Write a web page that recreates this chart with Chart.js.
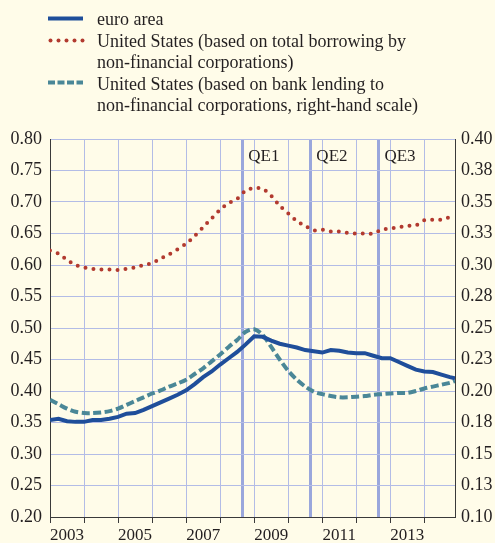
<!DOCTYPE html>
<html>
<head>
<meta charset="utf-8">
<script src="https://cdn.jsdelivr.net/npm/chart.js@4/dist/chart.umd.min.js"></script>
<style>
  html, body { margin: 0; padding: 0; background: #fffce9; }
  #wrap { position: relative; width: 495px; height: 543px; overflow: hidden; background: #fffce9; }
  canvas { position: absolute; left: 0; top: 0; }
  .lg { position: absolute; left: 97px; font-family: "Liberation Serif", "Times New Roman", serif; font-size: 18px; line-height: 21px; color: #231f20; white-space: nowrap; }
  svg.sw { position: absolute; left: 0; top: 0; }
</style>
</head>
<body>
<div id="wrap">
  <canvas id="c" width="495" height="543"></canvas>
  <svg class="sw" width="100" height="110">
    <line x1="48" y1="18.5" x2="83" y2="18.5" stroke="#1f4e9a" stroke-width="4"/>
    <g fill="#b23a2f">
      <circle cx="50.5" cy="40.5" r="2"/><circle cx="58.5" cy="40.5" r="2"/><circle cx="66.5" cy="40.5" r="2"/><circle cx="74.5" cy="40.5" r="2"/><circle cx="82.5" cy="40.5" r="2"/>
    </g>
    <line x1="48" y1="82.5" x2="83" y2="82.5" stroke="#4a8797" stroke-width="4" stroke-dasharray="7,2.5"/>
  </svg>
  <div class="lg" style="top:9px">euro area</div>
  <div class="lg" style="top:30.5px">United States (based on total borrowing by</div>
  <div class="lg" style="top:52px">non-financial corporations)</div>
  <div class="lg" style="top:73.5px">United States (based on bank lending to</div>
  <div class="lg" style="top:95px">non-financial corporations, right-hand scale)</div>
</div>
<script>
// ---- data ----
const euroYears = [2003.0,2003.25,2003.5,2003.75,2004.0,2004.25,2004.5,2004.75,2005.0,2005.25,2005.5,2005.75,2006.0,2006.25,2006.5,2006.75,2007.0,2007.25,2007.5,2007.75,2008.0,2008.25,2008.5,2008.75,2009.0,2009.25,2009.5,2009.75,2010.0,2010.25,2010.5,2010.75,2011.0,2011.25,2011.5,2011.75,2012.0,2012.25,2012.5,2012.75,2013.0,2013.25,2013.5,2013.75,2014.0,2014.25,2014.5,2014.75,2014.9];
const euroArea = [0.354,0.356,0.352,0.351,0.351,0.354,0.354,0.356,0.359,0.364,0.365,0.370,0.376,0.382,0.388,0.394,0.401,0.411,0.422,0.431,0.442,0.452,0.462,0.474,0.487,0.486,0.480,0.475,0.472,0.469,0.465,0.463,0.461,0.465,0.464,0.461,0.460,0.460,0.456,0.452,0.452,0.446,0.440,0.434,0.431,0.430,0.426,0.422,0.420];

const usTotalYears = [2003.0,2003.25,2003.5,2003.75,2004.0,2004.25,2004.5,2004.75,2005.0,2005.25,2005.5,2005.75,2006.0,2006.25,2006.5,2006.75,2007.0,2007.25,2007.5,2007.75,2008.0,2008.25,2008.5,2008.75,2009.0,2009.25,2009.5,2009.75,2010.0,2010.25,2010.5,2010.75,2011.0,2011.25,2011.5,2011.75,2012.0,2012.25,2012.5,2012.75,2013.0,2013.25,2013.5,2013.75,2014.0,2014.25,2014.5,2014.75,2014.9];
const usTotal = [0.623,0.618,0.608,0.600,0.596,0.594,0.593,0.593,0.592,0.594,0.596,0.600,0.603,0.610,0.617,0.625,0.634,0.646,0.660,0.674,0.688,0.698,0.705,0.718,0.722,0.721,0.710,0.694,0.682,0.670,0.662,0.655,0.656,0.653,0.653,0.651,0.650,0.650,0.650,0.656,0.658,0.660,0.662,0.663,0.671,0.672,0.672,0.676,0.677];

const usBankYears = [2003.0,2003.25,2003.5,2003.75,2004.0,2004.25,2004.5,2004.75,2005.0,2005.25,2005.5,2005.75,2006.0,2006.25,2006.5,2006.75,2007.0,2007.25,2007.5,2007.75,2008.0,2008.25,2008.5,2008.75,2009.0,2009.25,2009.5,2009.75,2010.0,2010.25,2010.5,2010.75,2011.0,2011.25,2011.5,2011.75,2012.0,2012.25,2012.5,2012.75,2013.0,2013.25,2013.5,2013.75,2014.0,2014.25,2014.5,2014.75,2014.9];
const usBank = [0.193,0.1895,0.186,0.1835,0.1825,0.1825,0.183,0.184,0.186,0.189,0.192,0.195,0.198,0.2005,0.2035,0.206,0.209,0.2135,0.218,0.2235,0.229,0.235,0.2405,0.247,0.249,0.2445,0.235,0.225,0.216,0.209,0.2035,0.1995,0.1975,0.196,0.195,0.195,0.1955,0.196,0.197,0.1975,0.198,0.1985,0.1985,0.200,0.202,0.2035,0.205,0.2065,0.208];

const yearGrid = [2003,2004,2005,2006,2007,2008,2009,2010,2011,2012,2013,2014];
const yearLabelPos = [2003.5,2005.5,2007.5,2009.5,2011.5,2013.5];
const yearLabels = ['2003','2005','2007','2009','2011','2013'];
const qeDates = [2008.65,2010.65,2012.65];
const qeLabels = ['QE1','QE2','QE3'];
const rightTicks = [0.1,0.125,0.15,0.175,0.2,0.225,0.25,0.275,0.3,0.325,0.35,0.375,0.4];
const rightTickLabels = ['0.10','0.13','0.15','0.18','0.20','0.23','0.25','0.28','0.30','0.33','0.35','0.38','0.40'];

const toXY = (xs, ys) => xs.map((x, i) => ({x: x, y: ys[i]}));

const GRID = '#b3bce6';
const QE = '#9aa7dc';
const AXIS = '#3a3a3a';
const FONT = '"Liberation Serif", "Times New Roman", serif';

const kindOf = v => {
  if (qeDates.some(q => Math.abs(q - v) < 1e-6)) return 'qe';
  if (yearLabelPos.some(q => Math.abs(q - v) < 1e-6)) return 'label';
  return 'year';
};

const qePlugin = {
  id: 'qeText',
  afterDatasetsDraw(chart) {
    const ctx = chart.ctx, xs = chart.scales.x;
    ctx.save();
    ctx.font = '17px ' + FONT;
    ctx.fillStyle = '#231f20';
    ctx.textBaseline = 'middle';
    ctx.textAlign = 'left';
    qeDates.forEach((d, i) => ctx.fillText(qeLabels[i], xs.getPixelForValue(d) + 6, 157));
    ctx.restore();
  }
};

new Chart(document.getElementById('c'), {
  type: 'line',
  data: {
    datasets: [
      { label: 'euro area', data: toXY(euroYears, euroArea), yAxisID: 'y',
        borderColor: '#1f4e9a', borderWidth: 4, pointRadius: 0, tension: 0, fill: false },
      { label: 'United States (based on total borrowing by non-financial corporations)', data: toXY(usTotalYears, usTotal), yAxisID: 'y',
        borderColor: '#b23a2f', borderWidth: 4, borderDash: [0, 8], borderCapStyle: 'round', pointRadius: 0, tension: 0.3, fill: false },
      { label: 'United States (based on bank lending to non-financial corporations, right-hand scale)', data: toXY(usBankYears, usBank), yAxisID: 'y1',
        borderColor: '#4a8797', borderWidth: 4, borderDash: [8, 3.5], borderCapStyle: 'butt', pointRadius: 0, tension: 0.3, fill: false }
    ]
  },
  options: {
    responsive: false,
    animation: false,
    layout: { padding: { top: 139, left: 0, right: 0, bottom: 0 } },
    plugins: { legend: { display: false }, tooltip: { enabled: false } },
    scales: {
      x: {
        type: 'linear', min: 2003, max: 2014.9,
        afterBuildTicks: s => {
          s.ticks = [...yearGrid, ...yearLabelPos, ...qeDates].sort((a, b) => a - b).map(v => ({ value: v }));
        },
        afterFit: s => { s.height = 26; },
        ticks: {
          autoSkip: false, maxRotation: 0, padding: 2,
          font: { family: FONT, size: 17 }, color: '#231f20',
          callback: v => { const i = yearLabelPos.findIndex(p => Math.abs(p - v) < 1e-6); return i >= 0 ? yearLabels[i] : ''; }
        },
        grid: {
          color: c => { const k = kindOf(c.tick.value); return k === 'qe' ? QE : (k === 'year' ? GRID : 'rgba(0,0,0,0)'); },
          lineWidth: c => kindOf(c.tick.value) === 'qe' ? 3 : 1,
          tickColor: c => kindOf(c.tick.value) === 'year' ? AXIS : 'rgba(0,0,0,0)',
          tickLength: 6, drawTicks: true
        },
        border: { display: true, color: AXIS, width: 1 }
      },
      y: {
        position: 'left', min: 0.2, max: 0.8,
        afterFit: s => { s.width = 50; },
        ticks: { stepSize: 0.05, padding: 8, font: { family: FONT, size: 18 }, color: '#231f20',
          callback: v => Number(v).toFixed(2) },
        grid: { color: GRID, lineWidth: 1, drawTicks: false },
        border: { display: true, color: AXIS, width: 1 }
      },
      y1: {
        position: 'right', min: 0.1, max: 0.4,
        afterBuildTicks: s => { s.ticks = rightTicks.map(v => ({ value: v })); },
        afterFit: s => { s.width = 40; },
        ticks: { padding: 6, font: { family: FONT, size: 18 }, color: '#231f20',
          callback: (v, i) => rightTickLabels[i] },
        grid: { drawOnChartArea: false, drawTicks: false },
        border: { display: true, color: AXIS, width: 1 }
      }
    }
  },
  plugins: [qePlugin]
});
</script>
</body>
</html>
